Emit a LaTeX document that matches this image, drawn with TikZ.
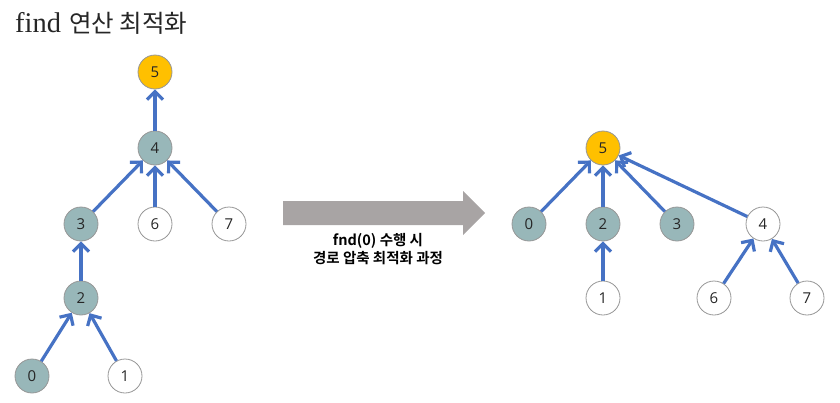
\documentclass[tikz,border=0pt]{standalone}
\usepackage{fontspec}
\setmainfont{Liberation Serif}
\newfontfamily\krfont{Noto Sans CJK KR}
\newfontfamily\krbold{Noto Sans CJK KR Bold}
\newfontfamily\numfont{Open Sans}
\usetikzlibrary{arrows.meta}
\definecolor{teal}{RGB}{152,183,185}
\definecolor{gold}{RGB}{255,192,0}
\definecolor{arrblue}{RGB}{70,114,196}
\definecolor{bordgray}{RGB}{150,150,150}
\definecolor{bigarrow}{RGB}{168,164,164}
\tikzset{
  nd/.style={circle,draw=bordgray,line width=0.8pt,minimum size=34pt,inner sep=0pt,font=\numfont\fontsize{15}{15}\selectfont,text=black!85},
  gnode/.style={nd,fill=teal},
  ynode/.style={nd,fill=gold},
  wnode/.style={nd,fill=white},
  link/.style={draw=arrblue,line width=3.2pt,-{Straight Barb[length=8pt,width=16pt,line width=3.2pt]}}
}
\begin{document}
\begin{tikzpicture}[x=1pt,y=-1pt]
\useasboundingbox (0,0) rectangle (840,402);
\node[anchor=base west,inner sep=0pt,text=black!85] (title) at (15,32) {\fontsize{28.5}{28.5}\selectfont find\hspace{1pt} {\krfont\fontsize{24.5}{24.5}\selectfont 연산 최적화}};
% left tree
\node[ynode] (L5) at (155,72) {5};
\node[gnode] (L4) at (155,148) {4};
\node[gnode] (L3) at (81,224) {3};
\node[wnode] (L6) at (155,224) {6};
\node[wnode] (L7) at (229,224) {7};
\node[gnode] (L2) at (81,298) {2};
\node[gnode] (L0) at (32,376) {0};
\node[wnode] (L1) at (125,376) {1};
\draw[link] (L4) -- (L5);
\draw[link] (L3) -- (L4);
\draw[link] (L6) -- (L4);
\draw[link] (L7) -- (L4);
\draw[link] (L2) -- (L3);
\draw[link] (L0) -- (L2);
\draw[link] (L1) -- (L2);
% big arrow
\fill[bigarrow] (283,201) -- (463,201) -- (463,191) -- (485,213) -- (463,235) -- (463,225) -- (283,225) -- cycle;
\node[align=center,inner sep=0pt,font=\krbold\fontsize{14.5}{18.5}\selectfont] (cap) at (378,249) {fnd(0) 수행 시\\경로 압축 최적화 과정};
% right tree
\node[ynode] (R5) at (603,148) {5};
\node[gnode] (R0) at (529,224) {0};
\node[gnode] (R2) at (603,224) {2};
\node[gnode] (R3) at (677,224) {3};
\node[wnode] (R4) at (763,224) {4};
\node[wnode] (R1) at (603,298) {1};
\node[wnode] (R6) at (714,298) {6};
\node[wnode] (R7) at (807,298) {7};
\draw[link] (R0) -- (R5);
\draw[link] (R2) -- (R5);
\draw[link] (R3) -- (R5);
\draw[link] (R4) -- (R5);
\draw[link] (R1) -- (R2);
\draw[link] (R6) -- (R4);
\draw[link] (R7) -- (R4);
\end{tikzpicture}
\end{document}
